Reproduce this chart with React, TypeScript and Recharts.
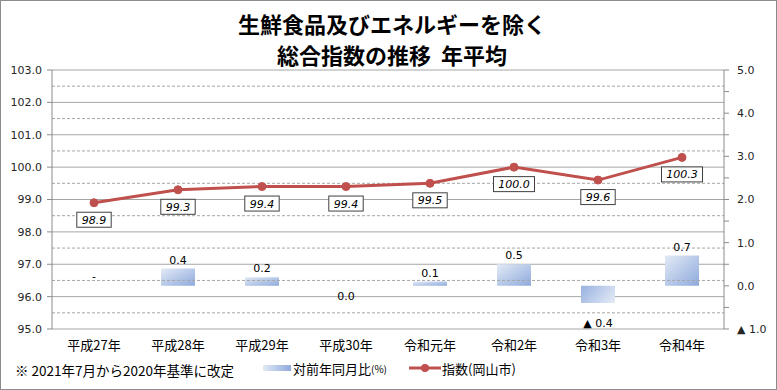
import React from "react";
import {
  ComposedChart,
  Bar,
  Line,
  Scatter,
  XAxis,
  YAxis,
  CartesianGrid,
  ReferenceLine,
  LabelList,
  Cell,
} from "recharts";

const categories = ["平成27年", "平成28年", "平成29年", "平成30年", "令和元年", "令和2年", "令和3年", "令和4年"];
const indexValues = [98.9, 99.3, 99.4, 99.4, 99.5, 100.0, 99.6, 100.3];
const yoyValues: (number | null)[] = [null, 0.4, 0.2, 0.0, 0.1, 0.5, -0.4, 0.7];
const leftTicks = [95, 96, 97, 98, 99, 100, 101, 102, 103];
const leftMinorTicks = [95.5, 96.5, 97.5, 98.5, 99.5, 100.5, 101.5, 102.5];
const rightTicks = [-1, -0.5, 0, 0.5, 1, 1.5, 2, 2.5, 3, 3.5, 4, 4.5, 5];
const boundaryTicks = [0, 1, 2, 3, 4, 5, 6, 7, 8];

const data = categories.map((c, i) => ({
  name: c,
  idx: indexValues[i],
  yoy: yoyValues[i],
  yoyAnchor: yoyValues[i] ?? 0,
  pos: i + 0.5,
}));

const W = 777;
const H = 390;
const GRID = "#a6a6a6";
const AXIS = "#8c8c8c";
const NUM_FONT = "'DejaVu Sans', Verdana, sans-serif";
const JP_FONT = "'Noto Sans CJK JP', sans-serif";

const fmtRight = (v: number) => {
  if (Math.abs(v - Math.round(v)) > 1e-9) return "";
  if (v < 0) return "▲ " + Math.abs(v).toFixed(1);
  return v.toFixed(1);
};

// Renders the bar value label at the end of each bar (cy = bar end on the right axis)
const BarValueLabel = (props: any) => {
  const { cx, cy, payload } = props;
  const value = payload ? payload.yoy : null;
  let text: string;
  let ty: number;
  if (value === null || value === undefined) {
    text = "-";
    ty = cy - 6;
  } else if (value > 0) {
    text = value.toFixed(1);
    ty = cy - 5;
  } else if (value === 0) {
    text = "0.0";
    ty = cy + 14;
  } else {
    text = "▲ " + Math.abs(value).toFixed(1);
    ty = cy + 24;
  }
  return (
    <text x={cx} y={ty} textAnchor="middle" fontSize={11} fontFamily={NUM_FONT} fill="#000">
      {text}
    </text>
  );
};

const LineLabel = (props: any) => {
  const { x, y, value } = props;
  const text = Number(value).toFixed(1);
  const w = text.length * 6.6 + 8;
  const h = 15;
  const cy = y + 17;
  return (
    <g>
      <rect x={x - w / 2} y={cy - h / 2} width={w} height={h} fill="#fff" stroke="#404040" strokeWidth={1} />
      <text
        x={x}
        y={cy + 4}
        textAnchor="middle"
        fontSize={11}
        fontStyle="italic"
        fontFamily={NUM_FONT}
        fill="#000"
      >
        {text}
      </text>
    </g>
  );
};

export default function App() {
  return (
    <div style={{ position: "absolute", left: 0, top: 0, width: W, height: H, background: "#fff" }}>
      <ComposedChart
        width={W}
        height={H}
        data={data}
        margin={{ top: 70, right: 0, bottom: 31, left: 0 }}
        barSize={34}
      >
        <defs>
          <linearGradient id="gPos" x1="0" y1="0" x2="1" y2="1">
            <stop offset="0%" stopColor="#e3eaf6" />
            <stop offset="100%" stopColor="#8eaadc" />
          </linearGradient>
          <linearGradient id="gNeg" x1="0" y1="0.3" x2="1" y2="0.7">
            <stop offset="0%" stopColor="#9fb6e2" />
            <stop offset="100%" stopColor="#dfe7f5" />
          </linearGradient>
        </defs>
        <CartesianGrid yAxisId="left" vertical={false} stroke={GRID} strokeWidth={1} />
        {leftMinorTicks.map((t) => (
          <ReferenceLine key={t} yAxisId="left" y={t} stroke={GRID} strokeDasharray="3 2" />
        ))}
        <XAxis
          xAxisId="bounds"
          type="number"
          dataKey="pos"
          domain={[0, 8]}
          ticks={boundaryTicks}
          tick={false}
          axisLine={{ stroke: AXIS }}
          tickLine={{ stroke: AXIS }}
          tickSize={5}
          height={0}
        />
        <XAxis
          dataKey="name"
          axisLine={false}
          tickLine={false}
          tickSize={0}
          tickMargin={12}
          height={30}
          interval={0}
          tick={{ fontSize: 13, fontFamily: JP_FONT, fill: "#000" }}
        />
        <YAxis
          yAxisId="left"
          domain={[95, 103]}
          ticks={leftTicks}
          width={52}
          axisLine={{ stroke: AXIS }}
          tickLine={{ stroke: AXIS }}
          tickSize={5}
          tickMargin={5}
          tickFormatter={(v: number) => v.toFixed(1)}
          tick={{ fontSize: 11, fontFamily: NUM_FONT, fill: "#262626" }}
          allowDataOverflow
        />
        <YAxis
          yAxisId="right"
          orientation="right"
          domain={[-1, 5]}
          ticks={rightTicks}
          width={53}
          axisLine={{ stroke: AXIS }}
          tickLine={{ stroke: AXIS }}
          tickSize={5}
          tickMargin={8}
          interval={0}
          tickFormatter={fmtRight}
          tick={{ fontSize: 11, fontFamily: NUM_FONT, fill: "#262626" }}
          allowDataOverflow
        />
        <Bar yAxisId="right" dataKey="yoy" isAnimationActive={false}>
          {data.map((d, i) => (
            <Cell key={i} fill={d.yoy !== null && d.yoy < 0 ? "url(#gNeg)" : "url(#gPos)"} />
          ))}
        </Bar>
        <Scatter
          yAxisId="right"
          dataKey="yoyAnchor"
          shape={BarValueLabel}
          isAnimationActive={false}
          legendType="none"
        />
        <Line
          yAxisId="left"
          dataKey="idx"
          stroke="#c0504d"
          strokeWidth={3}
          dot={{ r: 4, fill: "#c0504d", stroke: "#c0504d", strokeWidth: 1 }}
          activeDot={false}
          isAnimationActive={false}
        >
          <LabelList dataKey="idx" content={LineLabel} />
        </Line>
      </ComposedChart>

      <div
        style={{
          position: "absolute",
          left: 0,
          top: 8,
          width: 784,
          textAlign: "center",
          fontFamily: JP_FONT,
          fontWeight: 700,
          fontSize: 22,
          lineHeight: "31px",
          color: "#000",
        }}
      >
        <div>生鮮食品及びエネルギーを除く</div>
        <div>総合指数の推移&nbsp;&nbsp;年平均</div>
      </div>

      <div
        style={{
          position: "absolute",
          left: 15,
          top: 360,
          fontFamily: JP_FONT,
          fontSize: 13.5,
          color: "#000",
          whiteSpace: "nowrap",
        }}
      >
        ※ 2021年7月から2020年基準に改定
      </div>

      <div
        style={{
          position: "absolute",
          left: 263,
          top: 359,
          display: "flex",
          alignItems: "center",
          fontFamily: JP_FONT,
          fontSize: 13,
          color: "#000",
          whiteSpace: "nowrap",
          height: 18,
        }}
      >
        <div
          style={{
            width: 28,
            height: 6,
            background: "linear-gradient(90deg, #e3eaf6, #8eaadc)",
            marginRight: 2,
          }}
        />
        <span>対前年同月比</span>
        <span style={{ fontSize: 10 }}>(%)</span>
        <svg width={32} height={10} style={{ marginLeft: 22, marginRight: 1 }}>
          <line x1={0} y1={5} x2={32} y2={5} stroke="#c0504d" strokeWidth={3} />
          <circle cx={16} cy={5} r={4} fill="#c0504d" />
        </svg>
        <span>指数(岡山市)</span>
      </div>

      <div
        style={{
          position: "absolute",
          left: 0,
          top: 0,
          width: W,
          height: H,
          boxSizing: "border-box",
          border: "1px solid #8c8c8c",
          pointerEvents: "none",
        }}
      />
    </div>
  );
}
